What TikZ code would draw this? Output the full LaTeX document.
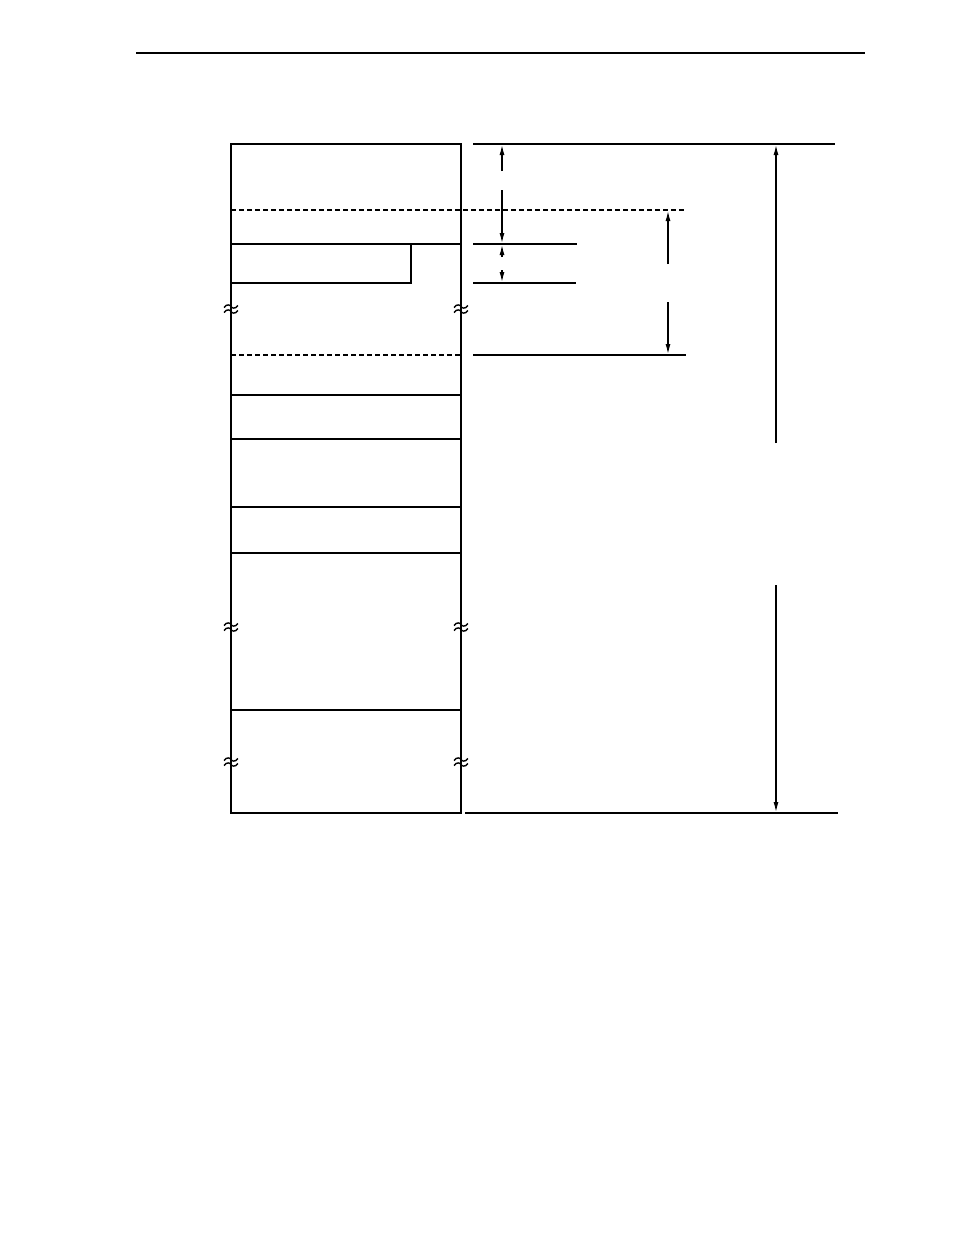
\documentclass[tikz,border=0pt]{standalone}
\usetikzlibrary{arrows.meta}
\begin{document}
\begin{tikzpicture}[x=1pt,y=-1pt,
  thin line/.style={line width=1.2pt},
  box line/.style={line width=2.4pt},
  dash line/.style={line width=1.2pt,dash pattern=on 5pt off 3pt},
  dim/.style={line width=1.2pt,-{Latex[length=10pt,width=5pt]}},
  wave/.style={line width=1.4pt}]
\useasboundingbox (0,0) rectangle (954,1235);
% header rule
\coordinate (hl) at (136,53); \coordinate (hr) at (865,53);
\draw[line width=1.3pt] (hl) -- (hr);
% main box
\coordinate (tl) at (231,144); \coordinate (br) at (461,813);
\draw[box line] (tl) rectangle (br);
% inner divisions
\foreach \y in {244,395,439,507,553,710} \draw[thin line] (231,\y) -- (461,\y);
\draw[dash line] (231,210) -- (686,210);
\draw[dash line] (231,355) -- (461,355);
% sub box
\draw[thin line] (231,283) -- (411,283) -- (411,244);
% extension lines
\draw[thin line] (473,144) -- (835,144);
\draw[thin line] (473,244) -- (577,244);
\draw[thin line] (473,283) -- (576,283);
\draw[thin line] (473,355) -- (686,355);
\draw[thin line] (465,813) -- (838,813);
% dimension arrows
\coordinate (a1s) at (502,171); \coordinate (a1e) at (502,145);
\draw[dim] (a1s) -- (a1e);
\coordinate (a2s) at (502,190); \coordinate (a2e) at (502,243);
\draw[dim] (a2s) -- (a2e);
\coordinate (a3s) at (502,257); \coordinate (a3e) at (502,245);
\draw[dim] (a3s) -- (a3e);
\coordinate (a4s) at (502,270); \coordinate (a4e) at (502,282);
\draw[dim] (a4s) -- (a4e);
\coordinate (b1s) at (668,264); \coordinate (b1e) at (668,211);
\draw[dim] (b1s) -- (b1e);
\coordinate (b2s) at (668,302); \coordinate (b2e) at (668,354);
\draw[dim] (b2s) -- (b2e);
\coordinate (c1s) at (776,443); \coordinate (c1e) at (776,145);
\draw[dim] (c1s) -- (c1e);
\coordinate (c2s) at (776,585); \coordinate (c2e) at (776,812);
\draw[dim] (c2s) -- (c2e);
% break marks
\foreach \x/\y in {231/309,461/309,231/627,461/627,231/762,461/762}{
  \foreach \d in {-2.5,2.5}{
    \draw[wave] (\x-7,\y+\d+1) .. controls (\x-4,\y+\d-3.5) and (\x,\y+\d-1) .. (\x,\y+\d)
      .. controls (\x,\y+\d+1) and (\x+4,\y+\d+3.5) .. (\x+7,\y+\d-1);
  }
}
\end{tikzpicture}
\end{document}
